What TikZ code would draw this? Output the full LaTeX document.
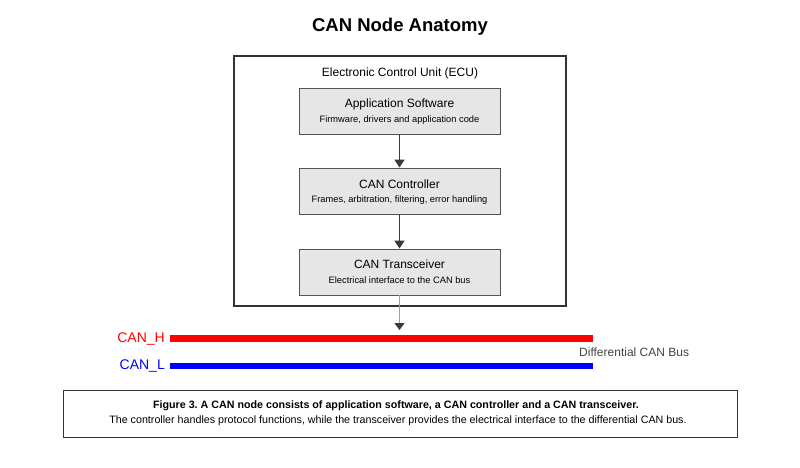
\documentclass[tikz,border=0pt]{standalone}
\usepackage{fontspec}
\setmainfont{Liberation Sans}
\usetikzlibrary{arrows.meta}
\frenchspacing
\definecolor{boxfill}{HTML}{E6E6E6}
\definecolor{boxline}{HTML}{555555}
\definecolor{eculine}{HTML}{333333}
\definecolor{arrowdark}{HTML}{3A3A3A}
\definecolor{canred}{HTML}{FF0000}
\definecolor{canblue}{HTML}{0000FF}
\definecolor{bustext}{HTML}{444444}
\tikzset{
  layerbox/.style={draw=boxline, fill=boxfill, line width=0.9pt, minimum width=201pt, minimum height=46pt, inner sep=0pt},
  flowarrow/.style={draw=arrowdark, line width=1.6pt, -{Triangle[length=8pt,width=10pt]}},
  busline/.style={line width=6.5pt},
  buslabel/.style={font=\fontsize{14}{16}\selectfont, anchor=east, inner sep=0pt},
  boxtitle/.style={font=\fontsize{12}{14}\selectfont},
  boxsub/.style={font=\fontsize{9.3}{11}\selectfont},
}
\begin{document}
\begin{tikzpicture}[x=1pt,y=-1pt]
\useasboundingbox (0,0) rectangle (800,467);
\fill[white] (0,0) rectangle (800,467);
% title
\node[font=\bfseries\fontsize{18.5}{22}\selectfont] (title) at (400,27) {CAN Node Anatomy};
% ECU box
\draw[eculine, line width=1.4pt] (234,56) rectangle (566,306);
\node[font=\fontsize{12}{14}\selectfont] (ecu) at (400,73) {Electronic Control Unit (ECU)};
% layer boxes
\node[layerbox] (app) at (399.5,111) {};
\node[boxtitle] (apptitle) at (399.5,104) {Application Software};
\node[boxsub] (appsub) at (399.5,120) {Firmware, drivers and application code};
\node[layerbox] (ctrl) at (399.5,191) {};
\node[boxtitle] (ctrltitle) at (399.5,184) {CAN Controller};
\node[boxsub] (ctrlsub) at (399.5,200) {Frames, arbitration, filtering, error handling};
\node[layerbox] (xcvr) at (399.5,272) {};
\node[boxtitle] (xcvrtitle) at (399.5,264) {CAN Transceiver};
\node[boxsub] (xcvrsub) at (399.5,280) {Electrical interface to the CAN bus};
% arrows
\draw[flowarrow] (app.south) -- (ctrl.north);
\draw[flowarrow] (ctrl.south) -- (xcvr.north);
\coordinate (bustap) at (399.5,330);
\draw[draw=gray!75, line width=1pt, -{Triangle[length=7pt,width=10pt,color=arrowdark]}] (xcvr.south) -- (bustap);
% bus lines
\coordinate (hstart) at (170,338.5);
\coordinate (hend) at (593,338.5);
\coordinate (lstart) at (170,366);
\coordinate (lend) at (593,366);
\draw[busline, canred] (hstart) -- (hend);
\draw[busline, canblue] (lstart) -- (lend);
\node[buslabel, text=canred] (canh) at (165,338.5) {CAN\_H};
\node[buslabel, text=canblue] (canl) at (165,366) {CAN\_L};
\node[anchor=west, inner sep=0pt, text=bustext, font=\fontsize{12}{14}\selectfont] (buslbl) at (579,352.5) {Differential CAN Bus};
% caption
\draw[eculine, line width=1pt] (63,390) rectangle (737,437);
\node[font=\bfseries\fontsize{10.7}{12}\selectfont] (cap1) at (396,406) {Figure 3. A CAN node consists of application software, a CAN controller and a CAN transceiver.};
\node[font=\fontsize{10.7}{12}\selectfont] (cap2) at (398,420.5) {The controller handles protocol functions, while the transceiver provides the electrical interface to the differential CAN bus.};
\end{tikzpicture}
\end{document}
